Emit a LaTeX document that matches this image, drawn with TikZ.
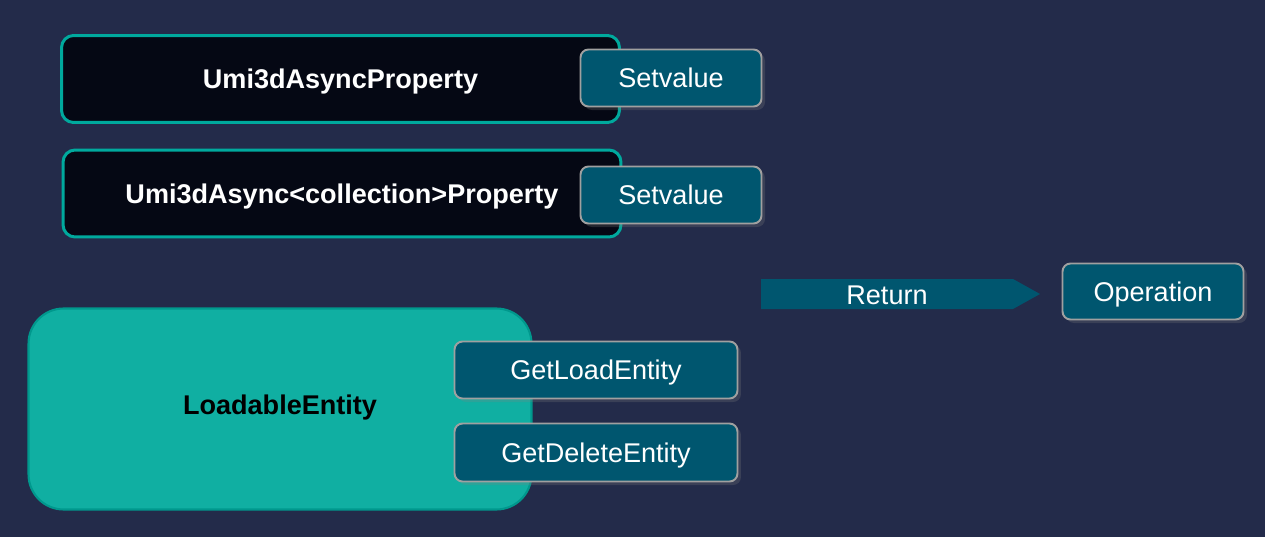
\documentclass[tikz,border=0pt]{standalone}
\usepackage{fontspec}
\setmainfont{Liberation Sans}
\usepackage{tikz}
\usetikzlibrary{positioning,shadows}
\definecolor{bgblue}{RGB}{35,43,74}
\definecolor{nightbox}{RGB}{5,8,20}
\definecolor{tealline}{RGB}{0,169,157}
\definecolor{tealfill}{RGB}{16,175,162}
\definecolor{petrol}{RGB}{0,86,111}
\definecolor{greyline}{RGB}{160,160,160}

\begin{document}
\begin{tikzpicture}[x=0.02cm, y=-0.02cm,
    every node/.style={font=\fontsize{15.4}{18}\selectfont, inner sep=1pt, text height=11pt, text depth=0pt}]

    \tikzstyle{classbox}=[rectangle, rounded corners=0.24cm, draw=tealline, line width=1.7pt, fill=nightbox, text=white, font=\fontsize{15.4}{18}\selectfont\bfseries, minimum width=11.16cm, minimum height=1.74cm]
    \tikzstyle{entitybox}=[rectangle, rounded corners=0.7cm, draw=tealline!90!black, line width=1.2pt, fill=tealfill, text=black, font=\fontsize{15.4}{18}\selectfont\bfseries, minimum width=10.06cm, minimum height=4.02cm, text depth=4.6pt]
    \tikzstyle{methodbox}=[rectangle, rounded corners=0.16cm, draw=greyline, line width=1.1pt, fill=petrol, text=white, drop shadow={opacity=0.25, shadow xshift=2pt, shadow yshift=-2pt}]

    \fill[bgblue] (0,0) rectangle (1265,537);
    \useasboundingbox (0,0) rectangle (1265,537);

    \node[classbox] (prop) at (340.5,79) {Umi3dAsyncProperty};
    \node[classbox] (coll) at (342,193.5) {Umi3dAsync<collection>Property};
    \node[methodbox, minimum width=3.62cm, minimum height=1.14cm] (set1) at (671,78) {Setvalue};
    \node[methodbox, minimum width=3.62cm, minimum height=1.14cm] (set2) at (671,195) {Setvalue};

    \fill[petrol] (761,279) -- (1013,279) -- (1040,294) -- (1013,309) -- (761,309) -- cycle;
    \node[text=white] (ret) at (887,295) {Return};
    \node[methodbox, minimum width=3.62cm, minimum height=1.12cm] (oper) at (1153,291.5) {Operation};

    \node[entitybox] (load) at (280,409) {LoadableEntity};
    \node[methodbox, minimum width=5.66cm, minimum height=1.14cm] (getload) at (596,370) {GetLoadEntity};
    \node[methodbox, minimum width=5.66cm, minimum height=1.16cm] (getdel) at (596,452.5) {GetDeleteEntity};

\end{tikzpicture}
\end{document}
